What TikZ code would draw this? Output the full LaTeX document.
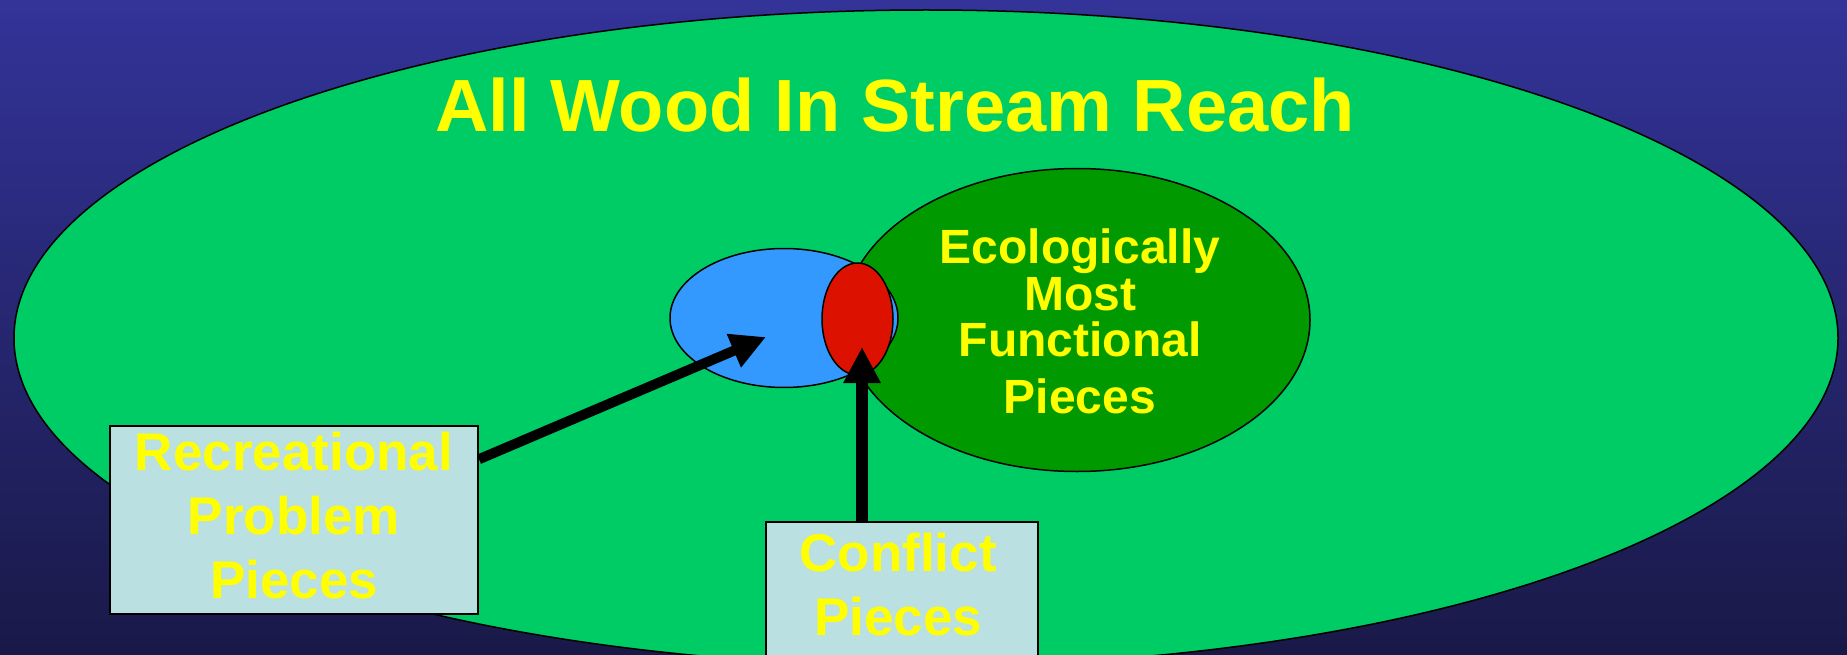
\documentclass[tikz,border=0pt]{standalone}
\usepackage{fontspec}
\setmainfont{Liberation Sans}
\usetikzlibrary{arrows.meta,shapes.geometric,calc}
\definecolor{bgtop}{RGB}{51,51,153}
\definecolor{bgmid}{RGB}{42,42,122}
\definecolor{bgbot}{RGB}{25,25,72}
\definecolor{reachgreen}{RGB}{0,204,102}
\definecolor{ecogreen}{RGB}{0,153,0}
\definecolor{recblue}{RGB}{51,153,255}
\definecolor{conflictred}{RGB}{221,17,0}
\definecolor{boxfill}{RGB}{186,224,226}
\definecolor{txtyellow}{RGB}{255,255,0}
\begin{document}
\begin{tikzpicture}[x=1pt,y=-1pt,
  ell/.style={ellipse, draw=black, line width=1.5pt, inner sep=0pt},
  labelbox/.style={rectangle, draw=black, line width=2pt, fill=boxfill, inner sep=0pt},
  ytext/.style={text=txtyellow, font=\bfseries, align=center, inner sep=0pt, anchor=base},
  arr/.style={draw=black, fill=black}
]
\useasboundingbox (0,0) rectangle (1847,655);
\clip (0,0) rectangle (1847,655);
\shade[top color=bgtop, middle color=bgmid, bottom color=bgbot] (0,0) rectangle (1847,655);

% big ellipse
\node[ell, fill=reachgreen, minimum width=1824, minimum height=656] (all) at (926,338) {};
\node[ytext, font=\fontsize{74}{80}\selectfont\bfseries] (title) at (895,132) {All Wood In Stream Reach};

% inner ellipses
\node[ell, fill=ecogreen, minimum width=466, minimum height=303] (eco) at (1077,320) {};
\node[ell, fill=recblue, minimum width=228, minimum height=139] (rec) at (784,318) {};
\node[ell, fill=conflictred, minimum width=71, minimum height=112] (red) at (857.5,319) {};

% multi-line texts: base anchor = baseline of the last line
\node[ytext, font=\fontsize{48}{46.5}\selectfont\bfseries] (ecotext) at (1080,413)
  {Ecologically\\Most\\Functional\\[10pt]Pieces};

% boxes
\node[labelbox, minimum width=368, minimum height=188] (recbox) at (294,520) {};
\node[ytext, font=\fontsize{53}{64}\selectfont\bfseries] (rectext) at (294,598)
  {Recreational\\Problem\\Pieces};
\node[labelbox, minimum width=272, minimum height=170] (confbox) at (902,607) {};
\node[ytext, font=\fontsize{53}{64}\selectfont\bfseries] (conftext) at (898,635)
  {Conflict\\Pieces};

% arrows
\coordinate (a1e) at (766,337);
\coordinate (a2e) at (862,347);
\draw[arr, line width=10pt, -{Triangle[length=35pt,width=34pt]}]
  ($(recbox.north east)!0.18!(recbox.south east)$) -- (a1e);
\draw[arr, line width=12pt, -{Triangle[length=36pt,width=35pt]}]
  (a2e |- confbox.north) -- (a2e);
\end{tikzpicture}
\end{document}
